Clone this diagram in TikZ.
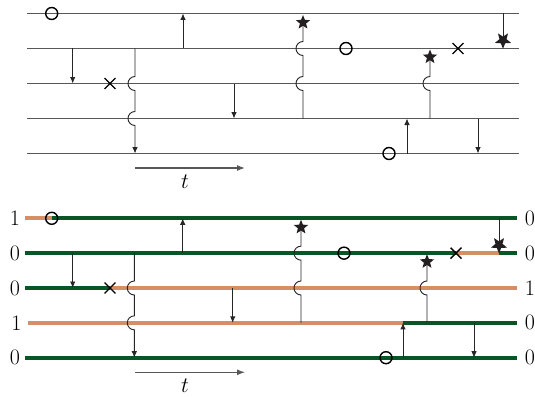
\RequirePackage{fix-cm}
\documentclass[tikz,border=0pt]{standalone}
\usepackage{amsmath, amssymb}
\usepackage{tikz}
\usetikzlibrary{arrows.meta}
\usetikzlibrary{positioning,shapes.geometric,shapes.misc}
\usepackage{xcolor}
\definecolor{wiregray}{RGB}{88,88,88}
\definecolor{upgreen}{RGB}{8,86,38}
\definecolor{downorange}{RGB}{214,143,100}
\definecolor{stardark}{RGB}{35,31,32}
\tikzset{
    wire/.style={
        draw=wiregray,
        line width=1.2pt
    },
    wireg/.style={draw=upgreen, line width=4pt},
    wireo/.style={draw=downorange, line width=4pt},
    link/.style={draw=black!85, line width=0.9pt},
    hop/.style={
        link,
        -{Latex[length=6.5pt, width=5.5pt]}
    },
    timearrow/.style={draw=wiregray, line width=1.2pt, -{Latex[length=8pt, width=6pt]}},
    ring/.style={draw, circle, line width=1.4pt, minimum size=12pt, inner sep=0pt},
    kill/.style={draw, cross out, line width=1.4pt, minimum size=9.5pt, inner sep=0pt},
    hit/.style={
        star,
        star points=5,
        star point ratio=2.3,
        fill=stardark,
        draw=none,
        minimum size=15pt,
        inner sep=0pt
    },
    lab/.style={font=\fontsize{22}{26}\selectfont, inner sep=0pt}
}

\begin{document}
\begin{tikzpicture}[x=1pt, y=1pt]
  \useasboundingbox (0,0) rectangle (535,-396);

  % Plain timelines
  \begin{scope}[shift={(0,-13.5)}]
    % Lines
    \foreach \i in {1,...,5} {
      \coordinate (Tl\i) at (27,{-35*(\i-1)});
      \coordinate (Tr\i) at (519,{-35*(\i-1)});
      \draw[wire] (Tl\i) -- (Tr\i);
    }

    % Event points
    \coordinate (To1) at (51.7,0);
    \coordinate (Ta) at (72.7,-35);
    \coordinate (Tx1) at (110,-70);
    \coordinate (Tb) at (135,-35);
    \coordinate (Tc) at (183,-35);
    \coordinate (Td) at (234,-70);
    \coordinate (Te) at (303,-105);
    \coordinate (Ts1) at (303,-9);
    \coordinate (To2) at (346,-35);
    \coordinate (To3) at (389,-140);
    \coordinate (Tf) at (407,-140);
    \coordinate (Tg) at (430,-105);
    \coordinate (Ts2) at (430,-43.5);
    \coordinate (Tx2) at (458,-35);
    \coordinate (Th) at (478,-105);
    \coordinate (Ti) at (503,0);
    \coordinate (Ts3) at (503,-26.8);

    % Jumps
    \draw[hop] (Ta) -- (Ta |- Tl3);
    \draw[hop] (Tb) -- ++(0,-28) arc[start angle=90, end angle=270, radius=7]
      -- ++(0,-21) arc[start angle=90, end angle=270, radius=7] -- (Tb |- Tl5);
    \draw[hop] (Tc) -- (Tc |- Tl1);
    \draw[hop] (Td) -- (Td |- Tl4);
    \draw[link] (Te) -- ++(0,28) arc[start angle=-90, end angle=-270, radius=7]
      -- ++(0,21) arc[start angle=-90, end angle=-270, radius=7] -- (Ts1);
    \draw[hop] (Tf) -- (Tf |- Tl4);
    \draw[link] (Tg) -- ++(0,28) arc[start angle=-90, end angle=-270, radius=7] -- (Ts2);
    \draw[hop] (Th) -- (Th |- Tl5);
    \draw[link] (Ti) -- (Ts3);

    % Marks
    \node[ring] (TO1) at (To1) {};
    \node[ring] (TO2) at (To2) {};
    \node[ring] (TO3) at (To3) {};
    \node[kill] (TX1) at (Tx1) {};
    \node[kill] (TX2) at (Tx2) {};
    \node[hit] (TS1) at (Ts1) {};
    \node[hit] (TS2) at (Ts2) {};
    \node[hit, rotate=180, minimum size=17pt] (TS3) at (Ts3) {};

    % Time axis
    \coordinate (Tt0) at (135,-154.5);
    \coordinate (Tt1) at (245,-154.5);
    \draw[timearrow] (Tt0) -- (Tt1);
    \node[lab] (Tt) at (185,-168.5) {$t$};
  \end{scope}

  % Coloured timelines
  \begin{scope}[shift={(0,-218.3)}]
    \foreach \i/\x in {1/25,2/25,3/25,4/28,5/25} {
      \coordinate (Bl\i) at (\x,{-34.85*(\i-1)});
      \coordinate (Br\i) at (517,{-34.85*(\i-1)});
    }

    % Event points
    \coordinate (Bo1) at (51.7,0);
    \coordinate (Ba) at (72.7,-34.85);
    \coordinate (Bx1) at (110,-69.7);
    \coordinate (Bb) at (134.3,-34.85);
    \coordinate (Bc) at (182.7,-34.85);
    \coordinate (Bd) at (232.7,-69.7);
    \coordinate (Be) at (301,-104.55);
    \coordinate (Bs1) at (301,-9);
    \coordinate (Bo2) at (344,-34.85);
    \coordinate (Bo3) at (386,-139.4);
    \coordinate (Bf) at (403,-139.4);
    \coordinate (Bg) at (427,-104.55);
    \coordinate (Bs2) at (427,-43.4);
    \coordinate (Bx2) at (456,-34.85);
    \coordinate (Bh) at (474,-104.55);
    \coordinate (Bi) at (499,0);
    \coordinate (Bs3) at (499,-26.7);

    % States
    \draw[wireo] (Bl1) -- (Bo1);
    \draw[wireg] (Bo1) -- (Br1);
    \draw[wireg] (Bl2) -- (Bx2);
    \draw[wireo] (Bx2) -- (Bi |- Bl2);
    \draw[wireg] (Bi |- Bl2) -- (Br2);
    \draw[wireg] (Bl3) -- (Bx1);
    \draw[wireo] (Bx1) -- (Br3);
    \draw[wireo] (Bl4) -- (Bf |- Bl4);
    \draw[wireg] (Bf |- Bl4) -- (Br4);
    \draw[wireg] (Bl5) -- (Br5);

    % Values
    \node[lab] (Bn1) at (15,0) {1};
    \node[lab] (Bn2) at (15,-34.85) {0};
    \node[lab] (Bn3) at (15,-69.7) {0};
    \node[lab] (Bn4) at (16.5,-104.55) {1};
    \node[lab] (Bn5) at (15,-139.4) {0};
    \node[lab] (Bm1) at (530,0) {0};
    \node[lab] (Bm2) at (530,-34.85) {0};
    \node[lab] (Bm3) at (530,-69.7) {1};
    \node[lab] (Bm4) at (530,-104.55) {0};
    \node[lab] (Bm5) at (530,-139.4) {0};

    % Jumps
    \draw[hop] (Ba) -- (Ba |- Bl3);
    \draw[hop] (Bb) -- ++(0,-27.85) arc[start angle=90, end angle=270, radius=7]
      -- ++(0,-20.85) arc[start angle=90, end angle=270, radius=7] -- (Bb |- Bl5);
    \draw[hop] (Bc) -- (Bc |- Bl1);
    \draw[hop] (Bd) -- (Bd |- Bl4);
    \draw[link] (Be) -- ++(0,27.85) arc[start angle=-90, end angle=-270, radius=7]
      -- ++(0,20.85) arc[start angle=-90, end angle=-270, radius=7] -- (Bs1);
    \draw[hop] (Bf) -- (Bf |- Bl4);
    \draw[link] (Bg) -- ++(0,27.85) arc[start angle=-90, end angle=-270, radius=7] -- (Bs2);
    \draw[hop] (Bh) -- (Bh |- Bl5);
    \draw[link] (Bi) -- (Bs3);

    % Marks
    \node[ring] (BO1) at (Bo1) {};
    \node[ring] (BO2) at (Bo2) {};
    \node[ring] (BO3) at (Bo3) {};
    \node[kill] (BX1) at (Bx1) {};
    \node[kill] (BX2) at (Bx2) {};
    \node[hit] (BS1) at (Bs1) {};
    \node[hit] (BS2) at (Bs2) {};
    \node[hit, rotate=180, minimum size=17pt] (BS3) at (Bs3) {};

    % Time axis
    \coordinate (Bt0) at (135,-154);
    \coordinate (Bt1) at (245,-154);
    \draw[timearrow] (Bt0) -- (Bt1);
    \node[lab] (Bt) at (185,-167.2) {$t$};
  \end{scope}
\end{tikzpicture}
\end{document}
